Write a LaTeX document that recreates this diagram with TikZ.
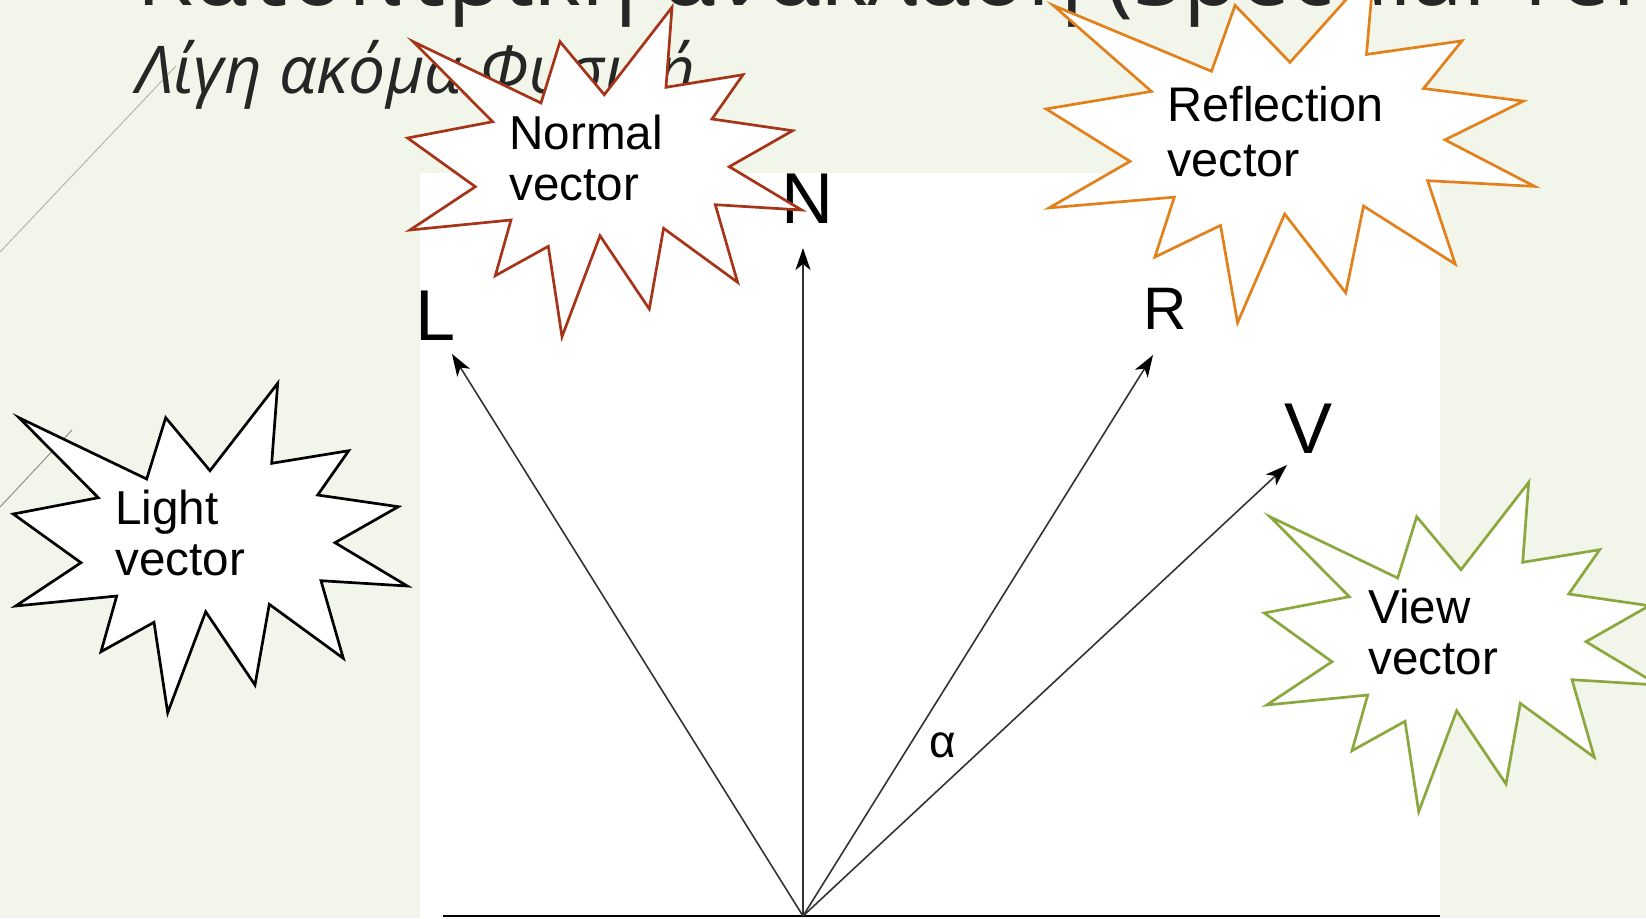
\documentclass[tikz,border=0pt]{standalone}
\usepackage{fontspec}
\setmainfont{Liberation Sans}
\newfontfamily\slidefont{Open Sans}
\usetikzlibrary{arrows.meta}
\definecolor{slidebg}{HTML}{F2F6EA}
\definecolor{titlegray}{HTML}{262626}
\definecolor{normalred}{HTML}{A63419}
\definecolor{reflorange}{HTML}{E2801C}
\definecolor{viewgreen}{HTML}{8BA83F}
\definecolor{vecgray}{HTML}{333333}
\definecolor{decoline}{HTML}{B9B5A6}

\tikzset{
  burst/.pic={
    \path[pic actions] (-191,-130.3) -- (-63.3,-69) -- (-44.3,-130.3) -- (0,-77.3)
      -- (67.7,-164.7) -- (61.7,-84.7) -- (138.7,-97.3) -- (107.7,-53)
      -- (188.3,-41.3) -- (125,-5.3) -- (197.3,38) -- (111,32.7)
      -- (133.3,110.3) -- (59.3,56.3) -- (45,137) -- (-4.3,63.7)
      -- (-42.3,164.7) -- (-56,74.3) -- (-109,103.7) -- (-93.3,48)
      -- (-194.3,58) -- (-129,14.7) -- (-196.7,-34) -- (-111.7,-50.3) -- cycle;
  },
  burstline/.style={fill=white, line width=1.35pt},
  bursttext/.style={anchor=base west, align=left, inner sep=0pt, font=\fontsize{23.8}{25.5}\selectfont},
  vec/.style={vecgray, line width=0.8pt, -{Stealth[length=11pt,width=7.5pt,inset=3pt,black]}},
  veclabel/.style={inner sep=0pt, anchor=base, font=\fontsize{36}{36}\selectfont},
}

\begin{document}
\begin{tikzpicture}[x=0.5pt,y=-0.5pt]
\clip (0,0) rectangle (1646,918);
\fill[slidebg] (0,0) rectangle (1646,918);
% slide decoration
\draw[decoline, line width=0.5pt] (0,252) -- (176,66);
\draw[decoline!80!black, line width=0.5pt] (0,507) -- (72,430);
\node[anchor=base west, inner sep=0pt, text=titlegray, font=\slidefont\fontsize{45.5}{45.5}\selectfont] (title) at (136,5) {Κατοπτρική ανάκλαση (Specular reflection)};
\node[anchor=base west, inner sep=0pt, text=titlegray, font=\slidefont\itshape\fontsize{33}{33}\selectfont] (subtitle) at (136,93.6) {Λίγη ακόμα Φυσική};

% the figure
\fill[white] (420,173) rectangle (1440,918);
\coordinate (O) at (803,916);
\coordinate (g1) at (443,916);
\coordinate (g2) at (1440,916);
\coordinate (tL) at (452,354);
\coordinate (tN) at (803,248);
\coordinate (tR) at (1153,355);
\coordinate (tV) at (1287,465);
\draw[line width=1.3pt] (g1) -- (g2);
\foreach \tip in {tL,tN,tR,tV}
  \draw[vec] (O) -- (\tip);
\node[veclabel, anchor=base west] (lblL) at (415,340) {L};
\node[veclabel] (lblN) at (807,223) {N};
\node[veclabel, font=\fontsize{30}{30}\selectfont] (lblR) at (1165,329) {R};
\node[veclabel] (lblV) at (1309,453) {V};
\node[veclabel, font=\fontsize{23}{23}\selectfont] (alpha) at (943,757) {α};

% call-outs (base anchor sits on the second line)
\pic (lightburst) [burstline, draw=black] at (210,548) {burst};
\pic (normalburst) [burstline, draw=normalred] at (604.3,172) {burst};
\pic (reflburst) [burstline, draw=reflorange, xscale=1.2398, yscale=1.0755] at (1290,145.5) {burst};
\pic (viewburst) [burstline, draw=viewgreen] at (1461,647) {burst};
\node[bursttext] (lighttext) at (115,575) {Light\\vector};
\node[bursttext] (normaltext) at (509,200) {Normal\\vector};
\node[bursttext, font=\fontsize{24.3}{27.5}\selectfont] (refltext) at (1167,176) {Reflection\\vector};
\node[bursttext] (viewtext) at (1368,674) {View\\vector};
\end{tikzpicture}
\end{document}
